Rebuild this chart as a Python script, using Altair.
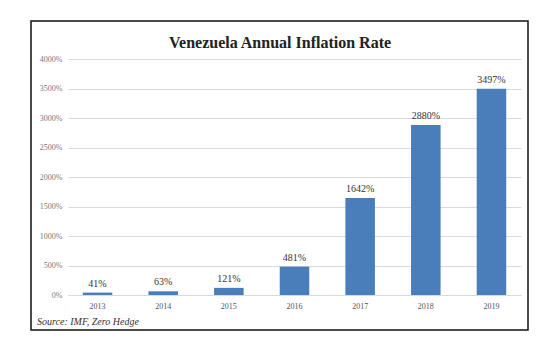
import altair as alt
import pandas as pd

years = ["2013", "2014", "2015", "2016", "2017", "2018", "2019"]
values = [41, 63, 121, 481, 1642, 2880, 3497]
labels = ["41%", "63%", "121%", "481%", "1642%", "2880%", "3497%"]
y_ticks = [0, 500, 1000, 1500, 2000, 2500, 3000, 3500, 4000]
title_text = "Venezuela Annual Inflation Rate"
source_text = "Source: IMF, Zero Hedge"

df = pd.DataFrame({"year": years, "value": values, "label": labels})
one = pd.DataFrame({"k": [0]})

FONT = "Liberation Serif"

x_enc = alt.X("year:N", sort=years, title=None,
              scale=alt.Scale(paddingInner=0.55, paddingOuter=0.225),
              axis=alt.Axis(labelAngle=0, labelFont=FONT, labelFontSize=8,
                            labelColor="#555555", ticks=False, domain=True,
                            domainColor="#d9d9d9", labelPadding=7))
y_enc = alt.Y("value:Q", title=None,
              scale=alt.Scale(domain=[0, 4000], nice=False),
              axis=alt.Axis(values=y_ticks, labelExpr="datum.value + '%'",
                            labelOverlap=False, tickCount=9,
                            labelFont=FONT, labelFontSize=8, labelColor="#777777",
                            grid=True, gridColor="#d9d9d9", domain=False,
                            ticks=False, labelPadding=6))

bars = alt.Chart(df).mark_bar(color="#4a7ebb").encode(x=x_enc, y=y_enc)

text = alt.Chart(df).mark_text(font=FONT, fontSize=10, color="#333333",
                               baseline="bottom", dy=-4).encode(
    x=alt.X("year:N", sort=years), y="value:Q", text="label:N")

box = alt.Chart(one).mark_rect(filled=False, stroke="#111111", strokeWidth=1.5).encode(
    x=alt.value(-37), x2=alt.value(460), y=alt.value(-38), y2=alt.value(271))

title = alt.Chart(one).mark_text(font=FONT, fontSize=16, fontWeight="bold",
                                 color="#222222", align="center",
                                 baseline="middle").encode(
    x=alt.value(212), y=alt.value(-16), text=alt.value(title_text))

source = alt.Chart(one).mark_text(font=FONT, fontSize=10, fontStyle="italic",
                                  color="#333333", align="left",
                                  baseline="middle").encode(
    x=alt.value(-31), y=alt.value(263), text=alt.value(source_text))

chart = alt.layer(box, bars, text, title, source).properties(
    width=453, height=236,
    autosize=alt.AutoSizeParams(type="none"),
    padding={"left": 68, "top": 59, "right": 33, "bottom": 50},
    background="white",
).configure_view(stroke=None)

chart.save("out.html", embed_options={"renderer": "svg", "actions": False})
